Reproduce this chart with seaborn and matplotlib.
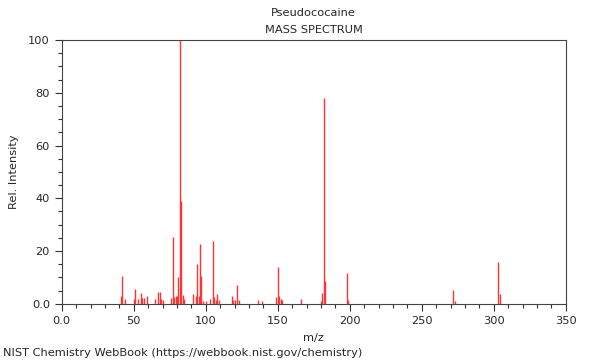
"""Mass spectrum stick plot for pseudococaine."""
import matplotlib

matplotlib.use("Agg")
import matplotlib.pyplot as plt
import numpy as np
import seaborn as sns
from matplotlib.ticker import FixedFormatter, FixedLocator, MultipleLocator

# m/z and relative intensity
mz = [41, 42, 44, 50, 51, 53, 55, 56, 57, 59,
      65, 67, 68, 69, 70, 76, 77, 78, 79, 80,
      81, 82, 83, 84, 85, 91, 93, 94, 95, 96,
      97, 98, 100, 103, 105, 106, 107, 108, 109, 118,
      119, 120, 122, 123, 136, 139, 149, 150, 151, 152,
      153, 166, 180, 181, 182, 183, 198, 199, 272, 273,
      303, 304]
intensity = [3.0, 10.6, 2.0, 2.0, 5.8, 2.0, 4.0, 2.2, 2.2, 3.0,
             2.0, 4.3, 4.3, 1.8, 1.5, 2.2, 25.5, 2.5, 3.0, 3.0,
             10.3, 100.0, 38.8, 3.4, 1.7, 3.8, 3.0, 15.2, 3.0, 22.7,
             10.4, 1.0, 1.0, 2.0, 23.9, 2.5, 1.5, 3.6, 1.5, 3.0,
             1.5, 1.5, 7.0, 1.5, 1.5, 1.0, 2.5, 14.0, 3.0, 2.0,
             1.5, 2.0, 1.0, 4.0, 77.9, 8.7, 11.7, 1.5, 5.3, 1.0,
             15.8, 3.8]

x_ticks = [0, 50, 100, 150, 200, 250, 300, 350]
x_labels = ["0.0", "50", "100", "150", "200", "250", "300", "350"]
y_ticks = [0, 20, 40, 60, 80, 100]
y_labels = ["0.0", "20", "40", "60", "80", "100"]

sns.set_style("ticks")
plt.rcParams["font.family"] = ["DejaVu Sans"]

fig = plt.figure(figsize=(6, 3.6), dpi=100)
ax = fig.add_axes([0.103, 0.156, 0.84, 0.733])

ax.vlines(np.array(mz), 0, np.array(intensity), color="#ff3333", lw=1.0)

ax.set_xlim(0, 350)
ax.set_ylim(0, 100)
ax.xaxis.set_major_locator(FixedLocator(x_ticks))
ax.xaxis.set_major_formatter(FixedFormatter(x_labels))
ax.yaxis.set_major_locator(FixedLocator(y_ticks))
ax.yaxis.set_major_formatter(FixedFormatter(y_labels))
ax.xaxis.set_minor_locator(MultipleLocator(10))
ax.yaxis.set_minor_locator(MultipleLocator(5))
ax.tick_params(which="major", length=5, width=0.8, labelsize=8.2, color="#333333")
ax.tick_params(which="minor", length=3, width=0.8, color="#333333")

for s in ax.spines.values():
    s.set_color("#444444")
    s.set_linewidth(0.8)

ax.set_xlabel("m/z", fontsize=8.2, labelpad=5)
ax.set_ylabel("Rel. Intensity", fontsize=8.2, labelpad=7)
fig.text(0.523, 0.963, "Pseudococaine", ha="center", va="center", fontsize=8.2)
fig.text(0.523, 0.916, "MASS SPECTRUM", ha="center", va="center", fontsize=8.2)
fig.text(0.005, 0.02, "NIST Chemistry WebBook (https://webbook.nist.gov/chemistry)",
         ha="left", va="center", fontsize=8.2)

fig.savefig("out.png", dpi=100)
